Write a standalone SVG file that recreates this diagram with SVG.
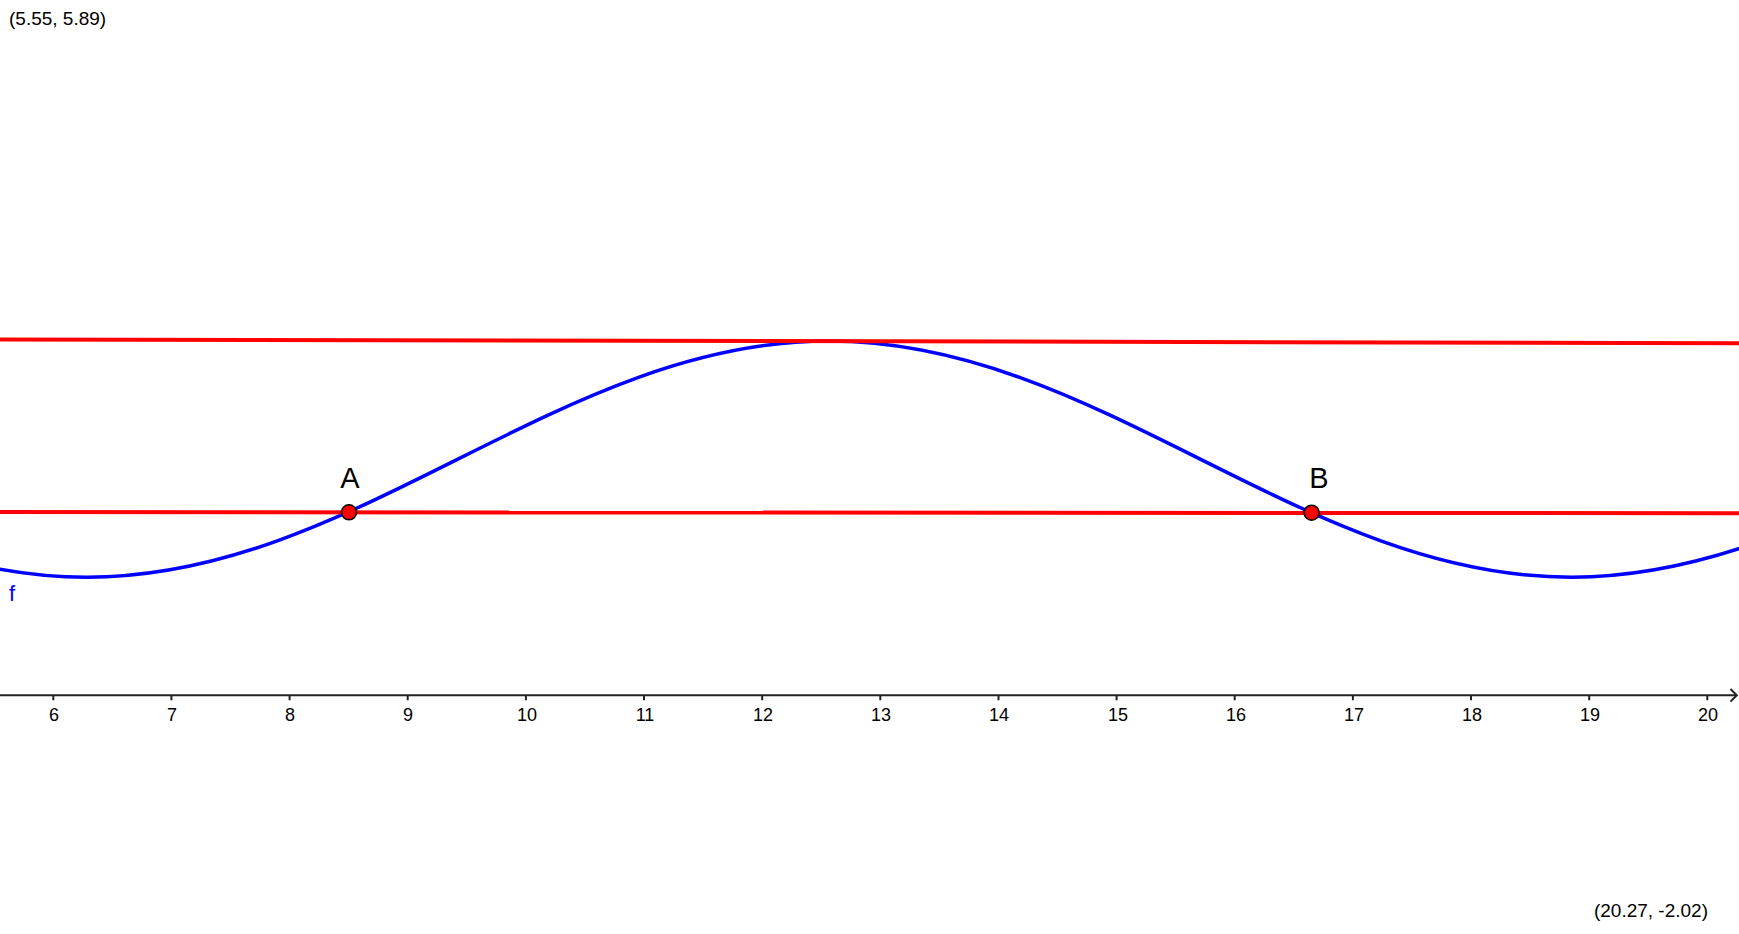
<svg xmlns="http://www.w3.org/2000/svg" width="1739" height="934" viewBox="0 0 1739 934">
<style>
text{font-family:"Liberation Sans",Arial,sans-serif;}
.corner{font-size:19px;fill:#000;}
.tick{font-size:18px;fill:#000;text-anchor:middle;}
.ptlabel{font-size:29px;fill:#000;text-anchor:middle;}
.axis{stroke:#222;stroke-width:2;fill:none;}
.redline{stroke:#ff0000;stroke-width:4;fill:none;}
.curve{stroke:#0000ff;stroke-width:3.5;fill:none;}
.pt{fill:#ff0000;stroke:#000;stroke-width:1.5;}
</style>
<rect width="1739" height="934" fill="#fff"/>
<g id="axis">
<path class="axis" d="M0,695.3 H1736"/>
<path class="axis" d="M1730.5,689 L1736.8,695.3 L1730.5,701.6"/>
<path class="axis" d="M53.3,695.3v5 M171.4,695.3v5 M289.6,695.3v5 M407.7,695.3v5 M525.9,695.3v5 M644,695.3v5 M762.2,695.3v5 M880.3,695.3v5 M998.5,695.3v5 M1116.6,695.3v5 M1234.7,695.3v5 M1352.9,695.3v5 M1471,695.3v5 M1589.2,695.3v5 M1707.3,695.3v5"/>
<text class="tick" x="54" y="721">6</text>
<text class="tick" x="172" y="721">7</text>
<text class="tick" x="290" y="721">8</text>
<text class="tick" x="408" y="721">9</text>
<text class="tick" x="527" y="721">10</text>
<text class="tick" x="645" y="721">11</text>
<text class="tick" x="763" y="721">12</text>
<text class="tick" x="881" y="721">13</text>
<text class="tick" x="999" y="721">14</text>
<text class="tick" x="1118" y="721">15</text>
<text class="tick" x="1236" y="721">16</text>
<text class="tick" x="1354" y="721">17</text>
<text class="tick" x="1472" y="721">18</text>
<text class="tick" x="1590" y="721">19</text>
<text class="tick" x="1708" y="721">20</text>
</g>
<g id="f">
<path class="curve" d="M-284.38,459.1 C-163.34,519.6 -47.55,577.2 86.77,577.2 C221.09,577.2 336.88,519.6 457.92,459.1 C578.96,398.6 694.75,341 829.07,341 C963.39,341 1079.18,398.6 1200.21,459.1 C1321.25,519.6 1437.04,577.2 1571.36,577.2 C1705.68,577.2 1821.47,519.6 1942.51,459.1"/>
<text x="9" y="601" font-size="22" fill="#0000ff">f</text>
</g>
<g id="connectors">
<path class="redline" d="M0,339.4 L1739,343.2"/>
<path class="redline" d="M0,512.1 L1739,513.2"/>
</g>
<g id="A">
<circle class="pt" cx="349" cy="512.3" r="7.5"/>
<text class="ptlabel" x="350" y="488">A</text>
</g>
<g id="B">
<circle class="pt" cx="1311.6" cy="512.7" r="7.5"/>
<text class="ptlabel" x="1319" y="488">B</text>
</g>
<text class="corner" x="9" y="25">(5.55, 5.89)</text>
<text class="corner" x="1708" y="917" text-anchor="end">(20.27, -2.02)</text>
</svg>
